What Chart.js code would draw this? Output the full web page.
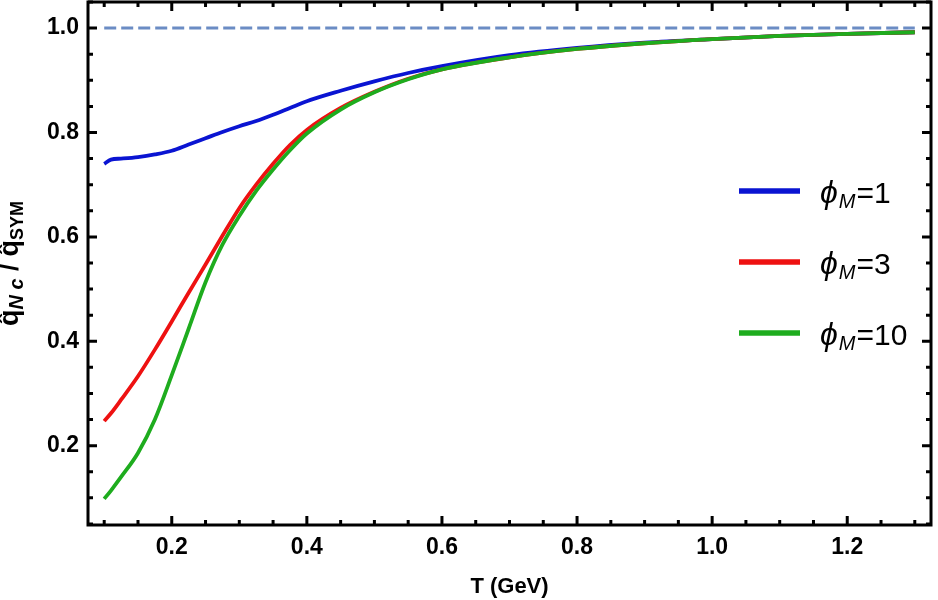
<!DOCTYPE html>
<html>
<head>
<meta charset="utf-8">
<script src="https://cdn.jsdelivr.net/npm/chart.js@4"></script>
<style>
  html, body { margin: 0; padding: 0; background: #fff; }
  #wrap { width: 938px; height: 600px; }
</style>
</head>
<body>
<div id="wrap"><canvas id="chart" width="938" height="600"></canvas></div>
<script>
"use strict";

// Temperature grid (GeV)
var T = [0.10, 0.11, 0.125, 0.15, 0.175, 0.2, 0.225, 0.25, 0.275, 0.3, 0.325, 0.35, 0.375,
         0.4, 0.45, 0.5, 0.55, 0.6, 0.7, 0.8, 0.9, 1.0, 1.1, 1.2, 1.3];

// qhat ratio for each phi_M
var phiM1 = [0.740, 0.748, 0.750, 0.753, 0.758, 0.765, 0.777, 0.789, 0.801, 0.812, 0.822, 0.834, 0.847,
             0.860, 0.880, 0.898, 0.914, 0.927, 0.948, 0.962, 0.972, 0.979, 0.985, 0.989, 0.992];
var phiM3 = [0.247, 0.262, 0.288, 0.333, 0.384, 0.438, 0.493, 0.547, 0.602, 0.655, 0.700, 0.740, 0.776,
             0.805, 0.847, 0.878, 0.903, 0.921, 0.944, 0.960, 0.971, 0.979, 0.985, 0.989, 0.992];
var phiM10 = [0.098, 0.114, 0.140, 0.186, 0.250, 0.335, 0.424, 0.513, 0.585, 0.640, 0.688, 0.729, 0.766,
              0.798, 0.844, 0.877, 0.902, 0.921, 0.944, 0.960, 0.971, 0.979, 0.985, 0.989, 0.992];

var phiValues = ['1', '3', '10'];
var seriesColors = ['#0a14d2', '#ee1111', '#1eac1e'];

// SYM reference level
var refT = [0.1, 1.3];
var refY = [1.0, 1.0];

function pts(xs, ys) {
    return xs.map(function(x, i) { return { x: x, y: ys[i] }; });
}

var FONT = '"Liberation Sans", Arial, sans-serif';

function isMajor(v) {
    var r = v / 0.2;
    return Math.abs(r - Math.round(r)) < 1e-6;
}

// inward ticks on all four sides, plus the frame
var framePlugin = {
    id: 'frame',
    afterDraw: function(chart) {
        var ctx = chart.ctx, a = chart.chartArea;
        var xs = chart.scales.x, ys = chart.scales.y;
        ctx.save();
        ctx.strokeStyle = '#000';
        ctx.lineWidth = 3;
        xs.ticks.forEach(function(t) {
            if (t.value < xs.min || t.value > xs.max) return;
            var px = xs.getPixelForValue(t.value);
            var len = isMajor(t.value) ? 9 : 5;
            ctx.beginPath();
            ctx.moveTo(px, a.bottom); ctx.lineTo(px, a.bottom - len);
            ctx.moveTo(px, a.top); ctx.lineTo(px, a.top + len);
            ctx.stroke();
        });
        ys.ticks.forEach(function(t) {
            if (t.value < ys.min || t.value > ys.max) return;
            var py = ys.getPixelForValue(t.value);
            var len = isMajor(t.value) ? 9 : 5;
            ctx.beginPath();
            ctx.moveTo(a.left, py); ctx.lineTo(a.left + len, py);
            ctx.moveTo(a.right, py); ctx.lineTo(a.right - len, py);
            ctx.stroke();
        });
        ctx.strokeRect(a.left, a.top, a.right - a.left, a.bottom - a.top);
        ctx.restore();
    }
};

// legend inside the plot with phi_M subscripts
var legendPlugin = {
    id: 'phiLegend',
    afterDraw: function(chart) {
        var ctx = chart.ctx;
        var rows = [191, 262, 333];
        ctx.save();
        phiValues.forEach(function(v, i) {
            var y = rows[i];
            ctx.strokeStyle = seriesColors[i];
            ctx.lineWidth = 5.5;
            ctx.beginPath();
            ctx.moveTo(739, y); ctx.lineTo(800, y);
            ctx.stroke();
            ctx.fillStyle = '#000';
            ctx.textBaseline = 'alphabetic';
            var x = 820, base = y + 12;
            ctx.font = 'italic 32px ' + FONT;
            ctx.fillText('\u03D5', x, base);
            x += ctx.measureText('\u03D5').width + 1;
            ctx.font = 'italic 20px ' + FONT;
            ctx.fillText('M', x, base + 5);
            x += ctx.measureText('M').width + 1;
            ctx.font = '30px ' + FONT;
            ctx.fillText('=' + v, x, base);
        });
        ctx.restore();
    }
};

// rotated y-axis title with hats and subscripts
var yTitlePlugin = {
    id: 'yTitle',
    afterDraw: function(chart) {
        var ctx = chart.ctx, a = chart.chartArea;
        var parts = [
            { t: 'q\u0302', f: 'bold 27px ' + FONT, dy: 0 },
            { t: 'N c', f: 'italic bold 20px ' + FONT, dy: 5 },
            { t: ' / ', f: 'bold 26px ' + FONT, dy: 0 },
            { t: 'q\u0302', f: 'bold 27px ' + FONT, dy: 0 },
            { t: 'SYM', f: 'bold 18px ' + FONT, dy: 5 }
        ];
        ctx.save();
        var total = 0;
        parts.forEach(function(p) { ctx.font = p.f; p.w = ctx.measureText(p.t).width; total += p.w; });
        ctx.translate(18, (a.top + a.bottom) / 2);
        ctx.rotate(-Math.PI / 2);
        ctx.fillStyle = '#000';
        ctx.textBaseline = 'alphabetic';
        var x = -total / 2;
        parts.forEach(function(p) {
            ctx.font = p.f;
            ctx.fillText(p.t, x, p.dy);
            x += p.w;
        });
        ctx.restore();
    }
};

var ctx = document.getElementById('chart').getContext('2d');
new Chart(ctx, {
    type: 'line',
    data: {
        datasets: [
            { label: 'phiM=' + phiValues[0], data: pts(T, phiM1), borderColor: seriesColors[0], order: 2 },
            { label: 'phiM=' + phiValues[1], data: pts(T, phiM3), borderColor: seriesColors[1], order: 1 },
            { label: 'phiM=' + phiValues[2], data: pts(T, phiM10), borderColor: seriesColors[2], order: 0 },
            { label: 'SYM', data: pts(refT, refY), borderColor: '#6b8cc4', borderWidth: 3,
              borderDash: [12, 5], cubicInterpolationMode: 'default', tension: 0, order: 3 }
        ]
    },
    options: {
        responsive: false,
        animation: false,
        layout: { padding: { top: 2, right: 7, left: 0, bottom: 0 } },
        elements: {
            point: { radius: 0 },
            line: { borderWidth: 3.8, cubicInterpolationMode: 'monotone', fill: false }
        },
        plugins: { legend: { display: false }, tooltip: { enabled: false } },
        scales: {
            x: {
                type: 'linear',
                min: 0.076, max: 1.324,
                grid: { display: false, drawTicks: false },
                border: { display: false },
                ticks: {
                    stepSize: 0.05, includeBounds: false, autoSkip: false, maxRotation: 0,
                    padding: 9, color: '#000',
                    font: { family: FONT, size: 23, weight: 'bold' },
                    callback: function(v) { return isMajor(v) ? v.toFixed(1) : ''; }
                },
                title: {
                    display: true, text: 'T (GeV)', color: '#000', padding: { top: 6, bottom: 0 },
                    font: { family: FONT, size: 22, weight: 'bold' }
                },
                afterFit: function(s) { s.height = 75; s.paddingLeft = 0; s.paddingRight = 0; }
            },
            y: {
                type: 'linear',
                min: 0.048, max: 1.05,
                grid: { display: false, drawTicks: false },
                border: { display: false },
                ticks: {
                    stepSize: 0.05, includeBounds: false, autoSkip: false,
                    padding: 9, color: '#000',
                    font: { family: FONT, size: 23, weight: 'bold' },
                    callback: function(v) { return isMajor(v) ? v.toFixed(1) : ''; }
                },
                afterFit: function(s) { s.width = 88; s.paddingTop = 0; s.paddingBottom = 0; }
            }
        }
    },
    plugins: [framePlugin, legendPlugin, yTitlePlugin]
});
</script>
</body>
</html>
